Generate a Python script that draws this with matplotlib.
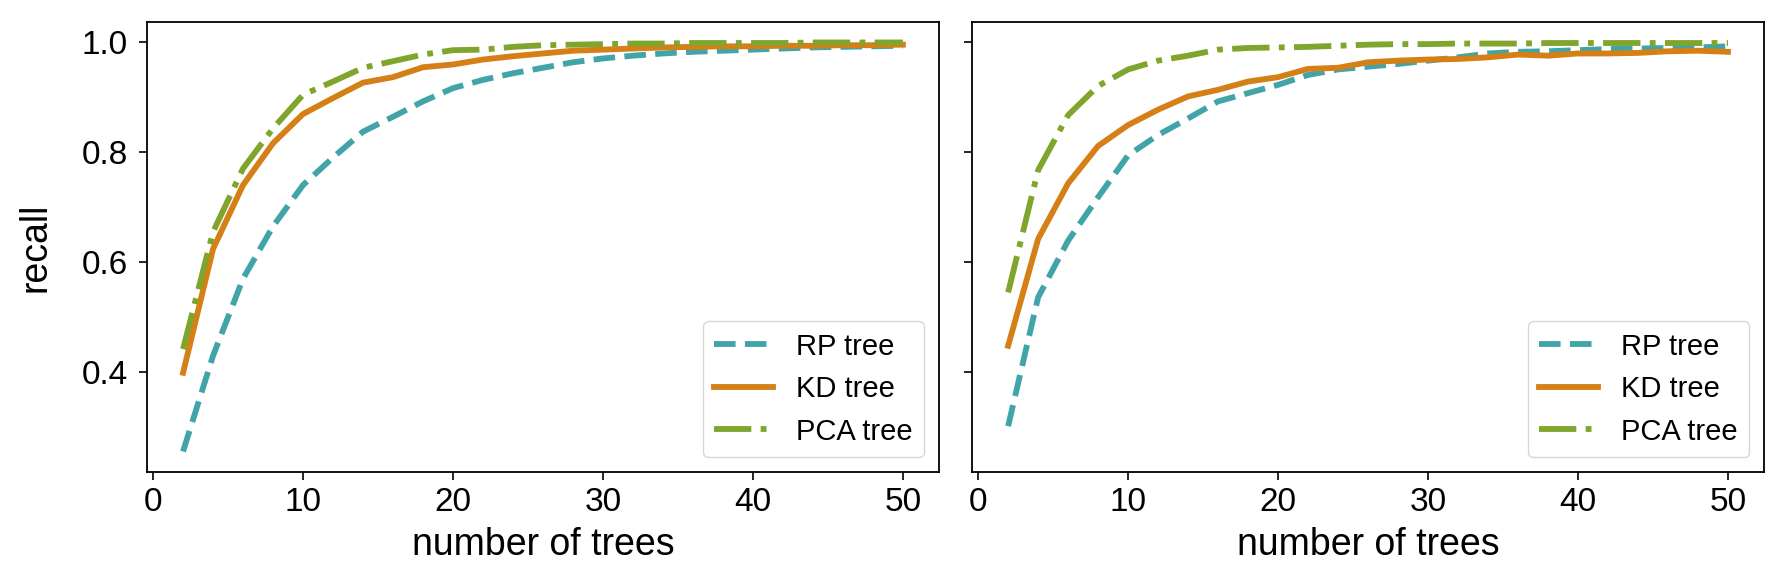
import numpy as np
import matplotlib
matplotlib.use("Agg")
import matplotlib.pyplot as plt

plt.rcParams['font.family'] = ['Liberation Sans', 'DejaVu Sans']

n_trees = list(range(2, 52, 2))

# left panel
rp_left = [0.256, 0.43, 0.57, 0.665, 0.74, 0.79, 0.837, 0.864, 0.892, 0.916, 0.931, 0.943, 0.953,
           0.963, 0.970, 0.975, 0.979, 0.982, 0.984, 0.986, 0.988, 0.990, 0.991, 0.992, 0.993]
kd_left = [0.399, 0.624, 0.74, 0.816, 0.869, 0.898, 0.926, 0.936, 0.954, 0.959, 0.968, 0.974, 0.979,
           0.984, 0.986, 0.988, 0.990, 0.991, 0.992, 0.992, 0.993, 0.993, 0.994, 0.994, 0.995]
pca_left = [0.442, 0.655, 0.77, 0.843, 0.904, 0.928, 0.953, 0.965, 0.977, 0.985, 0.986, 0.991, 0.994,
            0.995, 0.996, 0.997, 0.997, 0.998, 0.998, 0.998, 0.998, 0.999, 0.999, 0.999, 0.999]

# right panel
rp_right = [0.302, 0.536, 0.639, 0.718, 0.794, 0.831, 0.861, 0.892, 0.907, 0.922, 0.94, 0.95, 0.955,
            0.96, 0.966, 0.972, 0.979, 0.982, 0.983, 0.985, 0.987, 0.988, 0.989, 0.990, 0.992]
kd_right = [0.448, 0.642, 0.743, 0.811, 0.849, 0.877, 0.901, 0.913, 0.928, 0.936, 0.951, 0.953, 0.963,
            0.966, 0.968, 0.969, 0.972, 0.977, 0.975, 0.979, 0.979, 0.980, 0.983, 0.984, 0.982]
pca_right = [0.545, 0.767, 0.867, 0.92, 0.95, 0.966, 0.975, 0.986, 0.989, 0.990, 0.991, 0.993, 0.995,
             0.996, 0.996, 0.997, 0.997, 0.997, 0.998, 0.998, 0.998, 0.998, 0.998, 0.998, 0.998]

labels = ['RP tree', 'KD tree', 'PCA tree']
colors = ['#40a4a9', '#d57f17', '#80a52d']
styles = ['--', '-', '-.']

fig, axes = plt.subplots(1, 2, figsize=(17.87, 5.87), dpi=100, sharey=True)
fig.subplots_adjust(left=0.0823, right=0.9871, bottom=0.196, top=0.9625, wspace=0.042)

for ax, series in zip(axes, [(rp_left, kd_left, pca_left), (rp_right, kd_right, pca_right)]):
    for vals, lab, c, ls in zip(series, labels, colors, styles):
        ax.plot(n_trees, vals, ls, color=c, linewidth=4.2, label=lab)
    ax.set_xlabel('number of trees', fontsize=27, labelpad=6)
    ax.tick_params(labelsize=24, length=6, width=1.2, pad=5)
    ax.tick_params(axis='y', pad=8)
    ax.set_xticks([0, 10, 20, 30, 40, 50])
    ax.legend(loc='lower right', fontsize=21, handlelength=2.0)
    for s in ax.spines.values():
        s.set_linewidth(1.3)

axes[0].set_ylabel('recall', fontsize=27, labelpad=20)
axes[0].set_yticks([0.4, 0.6, 0.8, 1.0])

fig.savefig('out.png')
